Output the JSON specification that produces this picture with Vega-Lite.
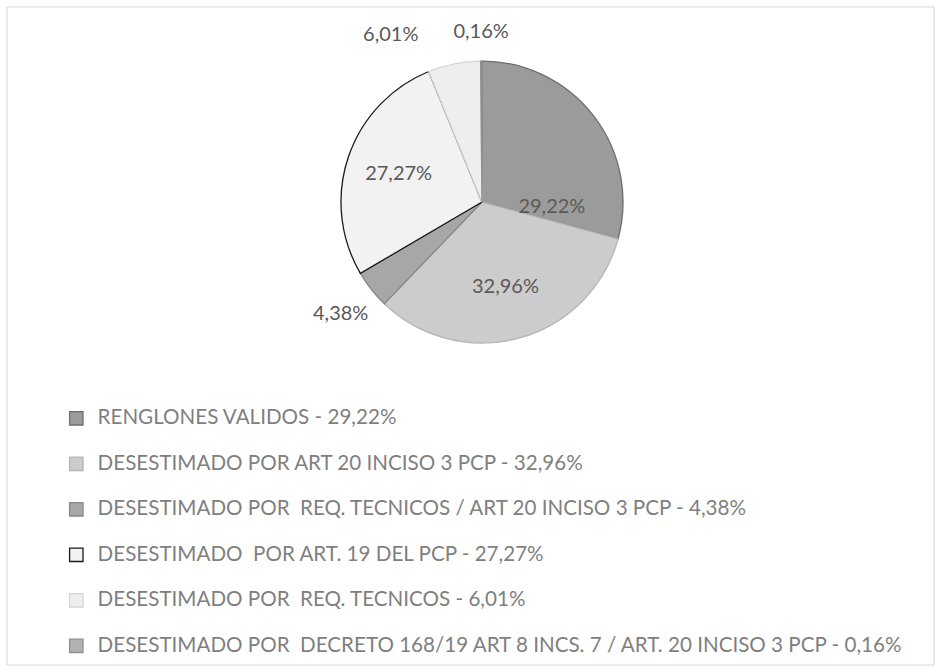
{
  "$schema": "https://vega.github.io/schema/vega-lite/v6.json",
  "autosize": "none",
  "width": 927,
  "height": 658,
  "padding": {"left": 7, "top": 7, "right": 7, "bottom": 7},
  "background": "white",
  "config": {
    "view": {"stroke": null},
    "font": "Lato"
  },
  "layer": [
    {
      "data": {"values": [{"frame": "border"}]},
      "mark": {"type": "rect", "fill": null, "stroke": "#d9d9d9", "strokeWidth": 1.2},
      "encoding": {}
    },
    {
      "data": {
        "values": [
          {"idx": 1, "cat": "RENGLONES VALIDOS - 29,22%", "pct": 29.22, "lab": "29,22%"},
          {"idx": 2, "cat": "DESESTIMADO POR ART 20 INCISO 3 PCP - 32,96%", "pct": 32.96, "lab": "32,96%"},
          {"idx": 3, "cat": "DESESTIMADO POR\u00a0 REQ. TECNICOS / ART 20 INCISO 3 PCP - 4,38%", "pct": 4.38, "lab": "4,38%"},
          {"idx": 4, "cat": "DESESTIMADO\u00a0 POR ART. 19 DEL PCP - 27,27%", "pct": 27.27, "lab": "27,27%"},
          {"idx": 5, "cat": "DESESTIMADO POR\u00a0 REQ. TECNICOS - 6,01%", "pct": 6.01, "lab": "6,01%"},
          {"idx": 6, "cat": "DESESTIMADO POR\u00a0 DECRETO 168/19 ART 8 INCS. 7 / ART. 20 INCISO 3 PCP - 0,16%", "pct": 0.16, "lab": "0,16%"}
        ]
      },
      "encoding": {
        "theta": {"field": "pct", "type": "quantitative", "stack": true, "scale": {"domain": [0, 100]}},
        "order": {"field": "idx", "type": "quantitative"}
      },
      "layer": [
        {
          "mark": {"type": "arc", "radius": 141, "strokeWidth": 1.3, "x": {"expr": "width * 0.5124"}, "y": {"expr": "height * 0.2964"}},
          "encoding": {
            "fill": {
              "field": "cat", "type": "nominal",
              "scale": {
                "domain": [
                  "RENGLONES VALIDOS - 29,22%",
                  "DESESTIMADO POR ART 20 INCISO 3 PCP - 32,96%",
                  "DESESTIMADO POR\u00a0 REQ. TECNICOS / ART 20 INCISO 3 PCP - 4,38%",
                  "DESESTIMADO\u00a0 POR ART. 19 DEL PCP - 27,27%",
                  "DESESTIMADO POR\u00a0 REQ. TECNICOS - 6,01%",
                  "DESESTIMADO POR\u00a0 DECRETO 168/19 ART 8 INCS. 7 / ART. 20 INCISO 3 PCP - 0,16%"
                ],
                "range": ["#9b9b9b", "#cccccc", "#a7a7a7", "#f2f2f2", "#eeeeee", "#b2b2b2"]
              },
              "legend": {
                "title": null,
                "orient": "none",
                "legendX": 59,
                "legendY": 401,
                "padding": 0,
                "symbolType": "square",
                "symbolSize": 180,
                "symbolStrokeWidth": 1.3,
                "labelFont": "Lato",
                "labelFontSize": 20.6,
                "labelColor": "#7f7f7f",
                "labelOffset": 11,
                "labelLimit": 900,
                "rowPadding": 24.5
              }
            },
            "stroke": {
              "field": "cat", "type": "nominal",
              "scale": {
                "domain": [
                  "RENGLONES VALIDOS - 29,22%",
                  "DESESTIMADO POR ART 20 INCISO 3 PCP - 32,96%",
                  "DESESTIMADO POR\u00a0 REQ. TECNICOS / ART 20 INCISO 3 PCP - 4,38%",
                  "DESESTIMADO\u00a0 POR ART. 19 DEL PCP - 27,27%",
                  "DESESTIMADO POR\u00a0 REQ. TECNICOS - 6,01%",
                  "DESESTIMADO POR\u00a0 DECRETO 168/19 ART 8 INCS. 7 / ART. 20 INCISO 3 PCP - 0,16%"
                ],
                "range": ["#6e6e6e", "#b5b5b5", "#888888", "#1a1a1a", "#d6d6d6", "#909090"]
              }
            }
          }
        },
        {
          "mark": {"type": "text", "radius": 88, "fontSize": 20, "font": "Lato", "fill": "#595959", "x": {"expr": "width * 0.5124"}, "y": {"expr": "height * 0.2964"}},
          "encoding": {
            "detail": {"field": "cat", "type": "nominal"},
            "text": {"field": "lab"},
            "opacity": {"condition": {"test": "datum.pct > 20 && datum.idx != 1", "value": 1}, "value": 0}
          }
        },
        {
          "mark": {"type": "text", "radius": 88, "dy": 58, "fontSize": 20, "font": "Lato", "fill": "#595959", "x": {"expr": "width * 0.5124"}, "y": {"expr": "height * 0.2964"}},
          "encoding": {
            "detail": {"field": "cat", "type": "nominal"},
            "text": {"field": "lab"},
            "opacity": {"condition": {"test": "datum.idx == 1", "value": 1}, "value": 0}
          }
        },
        {
          "mark": {"type": "text", "radius": 180, "fontSize": 20, "font": "Lato", "fill": "#595959", "align": "center", "x": {"expr": "width * 0.5124"}, "y": {"expr": "height * 0.2964"}},
          "encoding": {
            "detail": {"field": "cat", "type": "nominal"},
            "text": {"field": "lab"},
            "opacity": {"condition": {"test": "datum.idx == 3", "value": 1}, "value": 0}
          }
        },
        {
          "mark": {"type": "text", "radius": 170, "fontSize": 20, "font": "Lato", "fill": "#595959", "align": "center", "x": {"expr": "width * 0.5124"}, "y": {"expr": "height * 0.2964"}},
          "encoding": {
            "detail": {"field": "cat", "type": "nominal"},
            "text": {"field": "lab"},
            "opacity": {"condition": {"test": "datum.idx == 6", "value": 1}, "value": 0}
          }
        },
        {
          "mark": {"type": "text", "radius": 170, "dx": -30, "fontSize": 20, "font": "Lato", "fill": "#595959", "align": "right", "x": {"expr": "width * 0.5124"}, "y": {"expr": "height * 0.2964"}},
          "encoding": {
            "detail": {"field": "cat", "type": "nominal"},
            "text": {"field": "lab"},
            "opacity": {"condition": {"test": "datum.idx == 5", "value": 1}, "value": 0}
          }
        }
      ]
    }
  ]
}
